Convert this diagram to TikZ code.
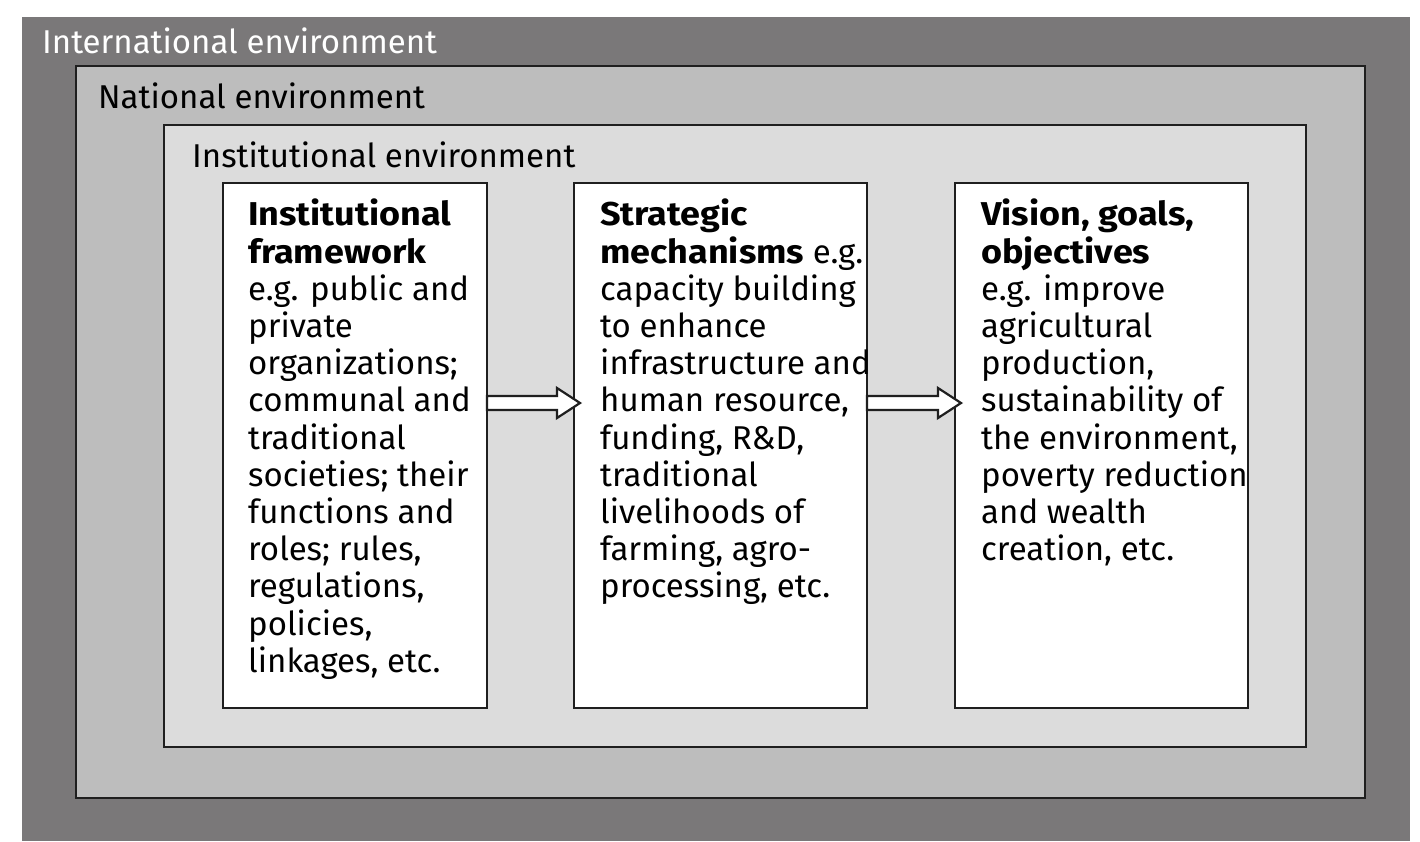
\documentclass[tikz,border=0pt]{standalone}
\usepackage{fontspec}
\setmainfont[BoldFeatures={FakeStretch=1.09}]{Fira Sans}
\usetikzlibrary{positioning}

\definecolor{intlgrey}{RGB}{122,120,121}
\definecolor{natgrey}{RGB}{189,189,189}
\definecolor{instgrey}{RGB}{220,220,220}

\begin{document}
\begin{tikzpicture}[
    x = 1pt,
    y = -1pt,
    env/.style={
        draw = black!88,
        line width = 2.4pt,
        inner sep = 0pt,
        outer sep = 0pt,
        anchor = north west
    },
    stage/.style={
        env,
        fill = white,
        minimum width = 293pt,
        minimum height = 525pt
    },
    envlabel/.style={
        anchor = base west,
        inner sep = 0pt,
        font = \fontsize{33}{37}\selectfont
    },
    stagetext/.style={
        anchor = north west,
        align = left,
        inner sep = 0pt,
        font = \fontsize{33}{37.2}\selectfont
    },
    hollow/.style={
        draw = black!88,
        fill = white,
        line width = 2.2pt,
        line join = miter
    }
]

\useasboundingbox (0,0) rectangle (1420,841);

% nested environments
\node[fill=intlgrey, inner sep=0pt, anchor=north west,
    minimum width=1388pt, minimum height=824pt] (intl) at (22,17) {};
\node[env, fill=natgrey, minimum width=1289pt, minimum height=732pt] (nat) at (76,66) {};
\node[env, fill=instgrey, minimum width=1142pt, minimum height=622pt] (inst) at (164,125) {};

\node[envlabel, text=white] (intllabel) at ([shift={(20,36)}]intl.north west) {International environment};
\node[envlabel] (natlabel) at ([shift={(22,42)}]nat.north west) {National environment};
\node[envlabel] (instlabel) at ([shift={(28,42)}]inst.north west) {Institutional environment};

% the three stages
\node[stage, minimum width=264pt] (frame) at (223,183) {};
\node[stage, right=87pt of frame] (mech) {};
\node[stage, right=88pt of mech] (goals) {};

\foreach \from/\to in {frame/mech, mech/goals}
    \draw[hollow] ([yshift=-213pt]\from.north east)
        -- ([xshift=-17pt,yshift=-213pt]\to.north west) -- ++(0,-8)
        -- ([xshift=6pt,yshift=-220pt]\to.north west) -- ++(-23,15) -- ++(0,-8)
        -- ([yshift=-227pt]\from.north east) -- cycle;

\node[stagetext] (frametext) at ([shift={(25,16)}]frame.north west) {%
    \textbf{Institutional}\\
    \textbf{framework}\\
    e.g. public and\\
    private\\
    organizations;\\
    communal and\\
    traditional\\
    societies; their\\
    functions and\\
    roles; rules,\\
    regulations,\\
    policies,\\
    linkages, etc.};
\node[stagetext] (mechtext) at ([shift={(26,16)}]mech.north west) {%
    \textbf{Strategic}\\
    \textbf{mechanisms} e.g.\\
    capacity building\\
    to enhance\\
    infrastructure and\\
    human resource,\\
    funding, R\&D,\\
    traditional\\
    livelihoods of\\
    farming, agro-\\
    processing, etc.};
\node[stagetext] (goalstext) at ([shift={(26,16)}]goals.north west) {%
    \textbf{Vision, goals,}\\
    \textbf{objectives}\\
    e.g. improve\\
    agricultural\\
    production,\\
    sustainability of\\
    the environment,\\
    poverty reduction\\
    and wealth\\
    creation, etc.};

\end{tikzpicture}
\end{document}
